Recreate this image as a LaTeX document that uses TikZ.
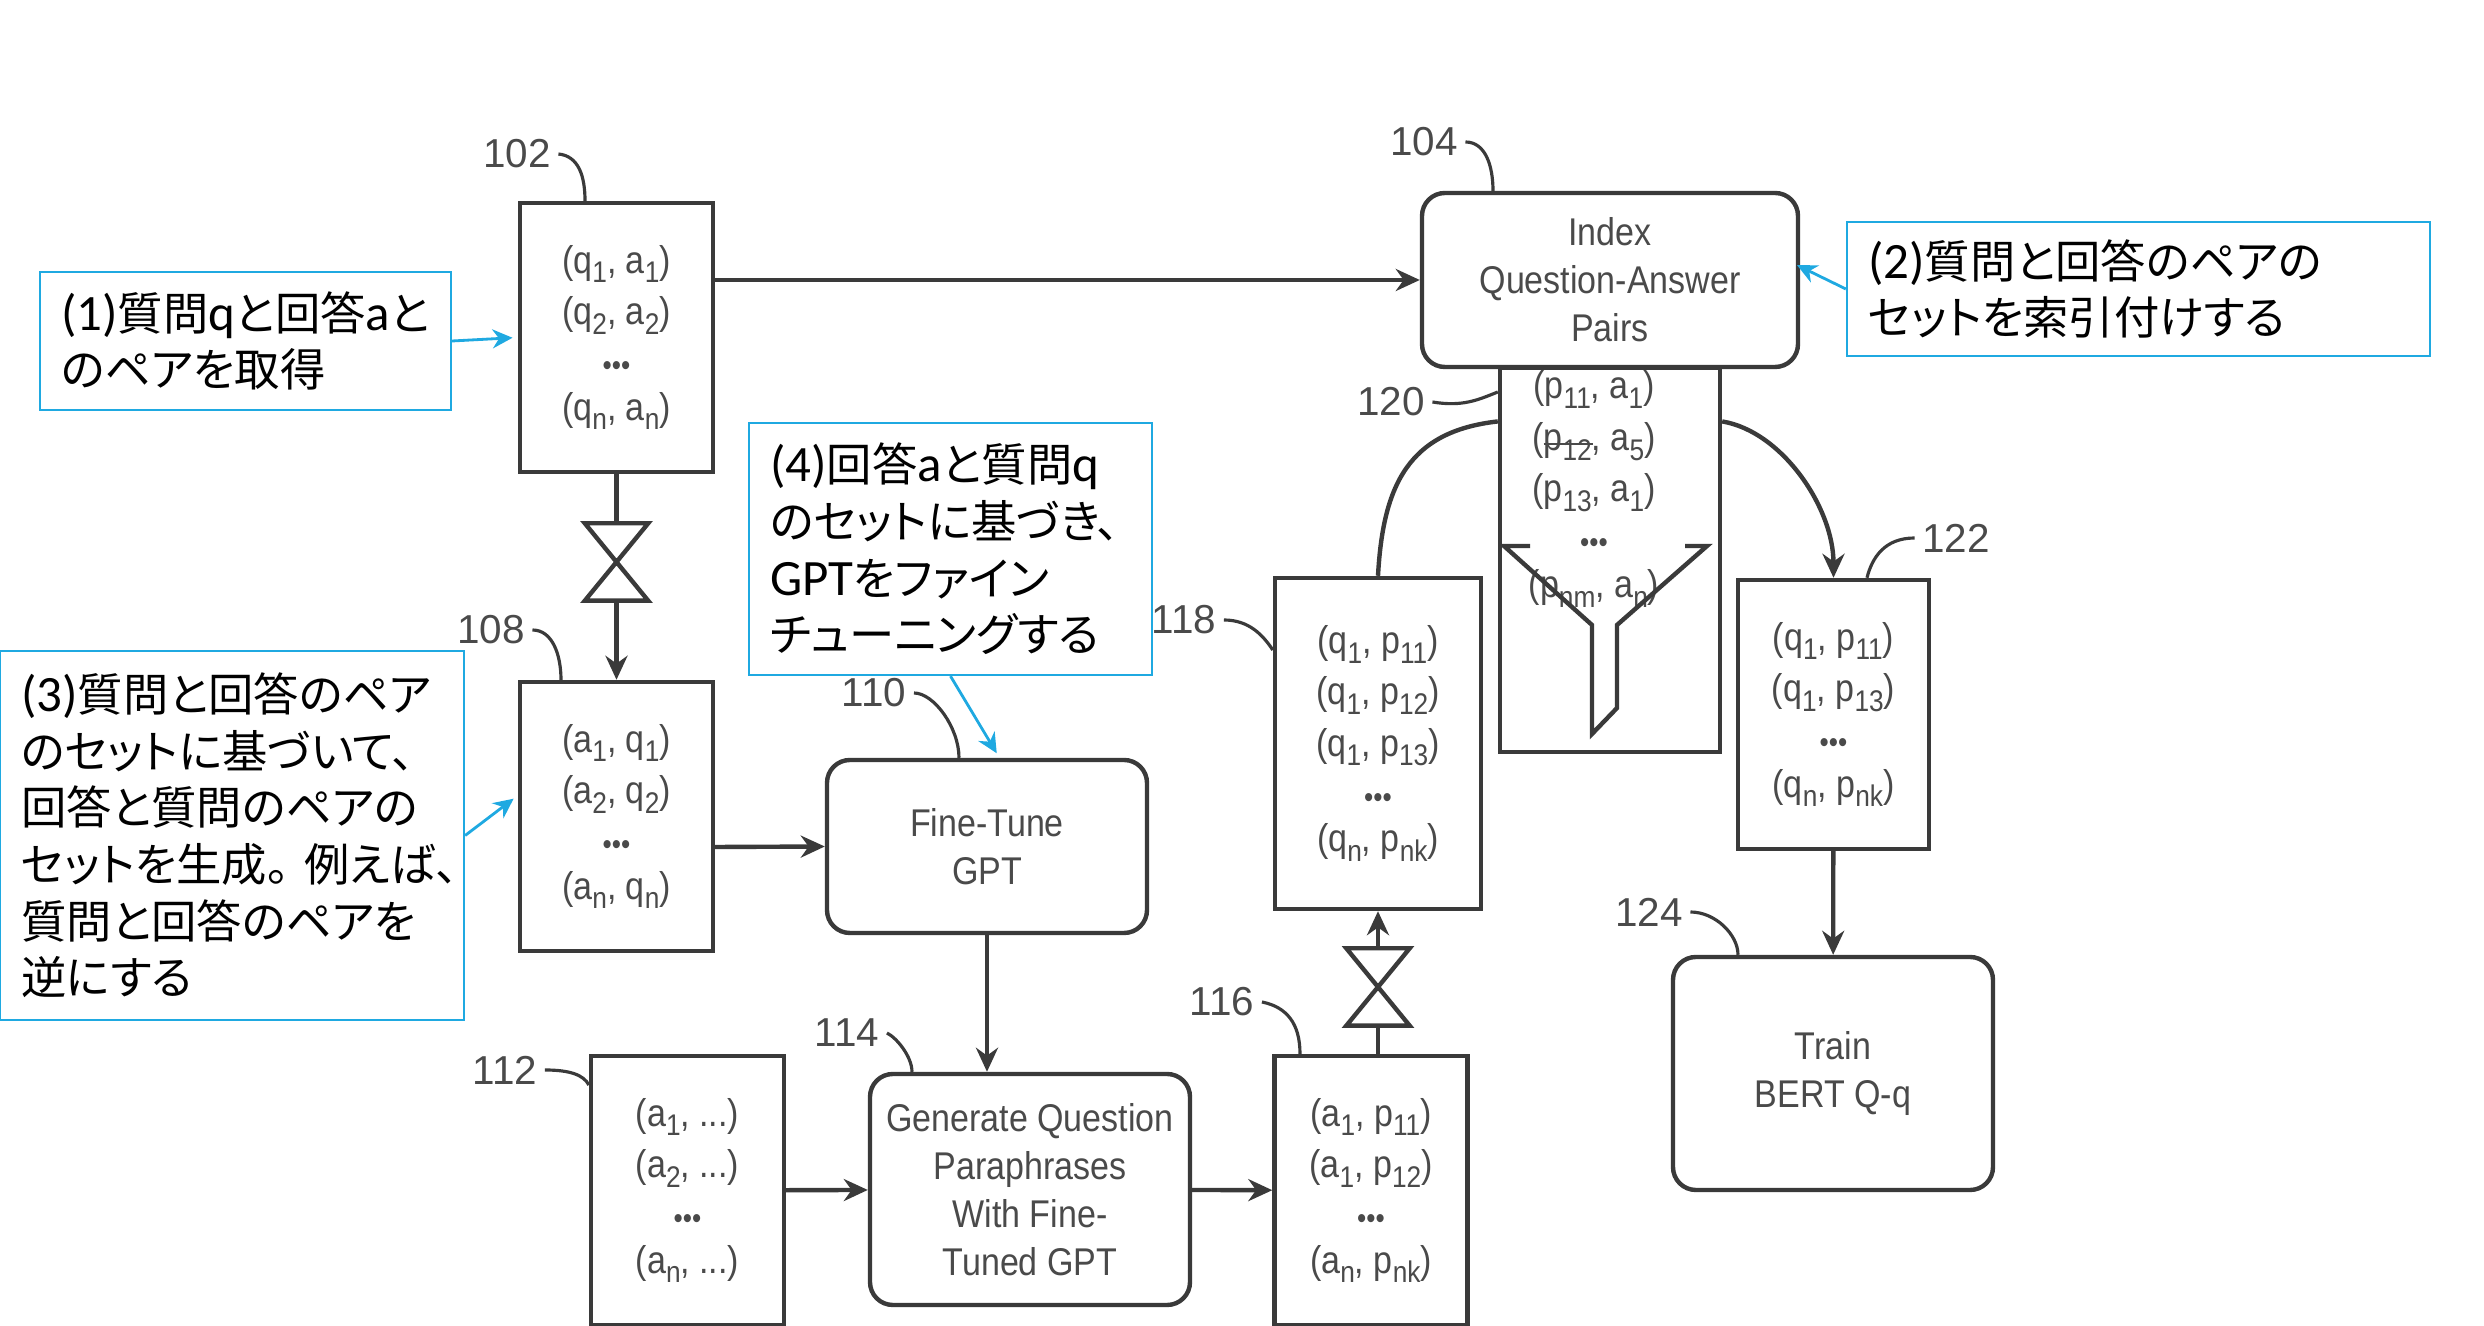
\documentclass[tikz,border=0pt]{standalone}
\usepackage{fontspec}
\setmainfont{Liberation Sans}[FakeStretch=0.88]
\newfontfamily\refFont{Liberation Sans}
\newfontfamily\jpFont[RawFeature=+palt]{Noto Sans CJK JP}
\newfontfamily\latFont{Carlito}
\usepackage{xcolor}
\definecolor{patInk}{HTML}{3A3A3A}
\definecolor{patText}{HTML}{4A4A4A}
\definecolor{noteBlue}{HTML}{1FA9E1}
\usetikzlibrary{arrows.meta, positioning}
\newcommand{\idx}[1]{\raisebox{-2.8pt}{\fontsize{8.5}{8.5}\selectfont #1}}
\newcommand{\pointsRow}{{\fontsize{8.5}{8.5}\selectfont •••}}
\newcommand{\barre}{\rlap{\rule[1.4pt]{14pt}{0.8pt}}}
\newcommand{\la}[1]{{\latFont\fontsize{14.5}{16}\selectfont #1}}
\tikzset{
  %% ── Boxes ──
  bloc/.style      = {draw=patInk, line width=1.25pt, fill=white, text=patText,
                      align=center, inner sep=0pt, font=\fontsize{11}{14.6}\selectfont},
  blocRond/.style  = {bloc, rounded corners=6.5pt, font=\fontsize{11}{13.7}\selectfont},
  blocPaire/.style = {bloc, minimum width=1.93cm, minimum height=2.69cm},
  vanne/.style     = {minimum width=0.62cm, minimum height=0.76cm, inner sep=0pt},
  blocBleu/.style 2 args = {draw=noteBlue, line width=0.65pt, fill=white, text=black,
                      align=left, inner xsep=0.21cm, inner ysep=0pt,
                      text width=#1cm-0.42cm, minimum height=#2cm,
                      font=\jpFont\fontsize{12.9}{16.1}\selectfont},
  %% ── Arrows ──
  trait/.style       = {draw=patInk, line width=1.25pt},
  fleche/.style      = {trait, -{Stealth[length=2.4mm, width=2.2mm]}},
  flecheBleue/.style = {draw=noteBlue, line width=0.8pt, shorten >=1.5pt,
                        -{Stealth[length=2mm, width=1.9mm]}},
  renvoi/.style      = {draw=patInk, line width=0.9pt},
  %% ── Text ──
  etiquette/.style = {font=\refFont\fontsize{11.5}{14}\selectfont, text=patText,
                      inner sep=2pt},
}
\begin{document}
\begin{tikzpicture}[x=1cm, y=-1cm]
\useasboundingbox (0,0) rectangle (24.84,13.26);

\node[blocPaire] (n102) at (6.165, 3.375)
     {(q\idx{1}, a\idx{1})\\(q\idx{2}, a\idx{2})\\\pointsRow\\[-2pt](q\idx{n}, a\idx{n})};
\node[blocPaire] (n108) at (6.165, 8.165)
     {(a\idx{1}, q\idx{1})\\(a\idx{2}, q\idx{2})\\\pointsRow\\[-2pt](a\idx{n}, q\idx{n})};
\node[blocRond, minimum width=3.20cm, minimum height=1.73cm] (n110) at (9.87, 8.465)
     {Fine-Tune\\GPT};
\node[blocPaire] (n112) at (6.875, 11.905)
     {(a\idx{1}, ...)\\(a\idx{2}, ...)\\\pointsRow\\[-2pt](a\idx{n}, ...)};
\node[blocRond, minimum width=3.20cm, minimum height=2.31cm] (n114) at (10.30, 11.895)
     {Generate Question\\Paraphrases\\With Fine-\\Tuned GPT};
\node[blocPaire] (n116) at (13.71, 11.905)
     {(a\idx{1}, p\idx{11})\\(a\idx{1}, p\idx{12})\\\pointsRow\\[-2pt](a\idx{n}, p\idx{nk})};
\node[bloc, minimum width=2.06cm, minimum height=3.31cm] (n118) at (13.78, 7.435)
     {(q\idx{1}, p\idx{11})\\(q\idx{1}, p\idx{12})\\(q\idx{1}, p\idx{13})\\\pointsRow\\[-2pt](q\idx{n}, p\idx{nk})};
\node[bloc, minimum width=2.20cm, minimum height=3.84cm] (n120) at (16.10, 5.60) {};
\node[font=\fontsize{11}{14.6}\selectfont, text=patText, align=center, inner sep=0pt] (t120) at (15.94, 4.89)
     {(p\idx{11}, a\idx{1})\\(\barre p\idx{12}, a\idx{5})\\(p\idx{13}, a\idx{1})\\\pointsRow\\[-2pt](p\idx{nm}, a\idx{n})};
\draw[trait] (15.30,5.46) -- (15.04,5.46) -- (15.92,6.25) -- (15.92,7.34) -- (16.17,7.08)
     -- (16.17,6.25) -- (17.07,5.46) -- (16.85,5.46);
\node[blocRond, minimum width=3.76cm, minimum height=1.74cm] (n104) at (16.10, 2.80)
     {Index\\Question-Answer\\Pairs};
\node[bloc, minimum width=1.91cm, minimum height=2.69cm] (n122) at (18.335, 7.145)
     {(q\idx{1}, p\idx{11})\\(q\idx{1}, p\idx{13})\\\pointsRow\\[-2pt](q\idx{n}, p\idx{nk})};
\node[blocRond, minimum width=3.20cm, minimum height=2.33cm] (n124) at (18.33, 10.735)
     {Train\\BERT Q-q};

\node[vanne] (v1) at (6.165, 5.62) {};
\node[vanne] (v2) at (13.78, 9.87) {};
\draw[trait] (v1.north west) -- (v1.south east) -- (v1.south west) -- (v1.north east) -- cycle;
\draw[trait] (v2.north west) -- (v2.south east) -- (v2.south west) -- (v2.north east) -- cycle;

\draw[fleche] (n102.east |- n104.west) -- (n104.west);
\draw[trait] (n102) -- (v1);
\draw[fleche] (v1) -- (n108);
\draw[fleche] (n108.east |- 0,8.47) -- (n110.west);
\draw[fleche] (n110) -- (n110 |- n114.north);
\draw[fleche] (n112) -- (n114);
\draw[fleche] (n114) -- (n116);
\draw[trait] (v2 |- n116.north) -- (v2);
\draw[fleche] (v2) -- (n118);
\draw[trait] (n120.129) .. controls +(-0.9,0.1) and +(0.05,-0.9) .. (n118.north);
\draw[fleche] (n120.51) .. controls +(0.6,0.1) and +(0,-0.7) .. (n122.north);
\draw[fleche] (n122) -- (n124);

\node[etiquette] (l102) at (5.17, 1.54) {102};
\node[etiquette] (l104) at (14.24, 1.42) {104};
\node[etiquette] (l108) at (4.91, 6.30) {108};
\node[etiquette] (l110) at (8.74, 6.93) {110};
\node[etiquette] (l112) at (5.05, 10.70) {112};
\node[etiquette] (l114) at (8.47, 10.33) {114};
\node[etiquette] (l116) at (12.22, 10.02) {116};
\node[etiquette] (l118) at (11.84, 6.20) {118};
\node[etiquette] (l120) at (13.91, 4.02) {120};
\node[etiquette] (l122) at (19.56, 5.38) {122};
\node[etiquette] (l124) at (16.49, 9.12) {124};

\draw[renvoi] (l102.east) .. controls +(0.2,0.02) and +(0,-0.25) .. (5.85,0 |- n102.north);
\draw[renvoi] (l104.east) .. controls +(0.2,0) and +(0,-0.25) .. (14.93,0 |- n104.north);
\draw[renvoi] (l108.east) .. controls +(0.2,0) and +(0,-0.25) .. (5.61,0 |- n108.north);
\draw[renvoi] (l110.east) .. controls +(0.2,0) and +(0,-0.3) .. (9.59,0 |- n110.north);
\draw[renvoi] (l112.east) .. controls +(0.25,0) and +(-0.05,-0.1) .. (n112.west |- 0,10.85);
\draw[renvoi] (l114.east) .. controls +(0.1,0.05) and +(0,-0.15) .. (9.12,0 |- n114.north);
\draw[renvoi] (l116.east) .. controls +(0.25,0.05) and +(0,-0.3) .. (13.00,0 |- n116.north);
\draw[renvoi] (l118.east) .. controls +(0.25,0) and +(-0.1,-0.15) .. (n118.west |- 0,6.50);
\draw[renvoi] (l120.east) .. controls +(0.3,0.05) and +(-0.2,0.08) .. (n120.west |- 0,3.92);
\draw[renvoi] (l122.west) .. controls +(-0.3,0) and +(0.05,-0.2) .. (18.67,0 |- n122.north);
\draw[renvoi] (l124.east) .. controls +(0.25,0) and +(0,-0.2) .. (17.38,0 |- n124.north);

\node[blocBleu={4.11}{1.38}] (b1) at (2.455, 3.41)
     {\la{(1)}質問\la{q}と回答\la{a}と\\のペアを取得};
\node[blocBleu={5.83}{1.34}] (b2) at (21.385, 2.89)
     {\la{(2)}質問と回答のペアの\\セットを索引付けする};
\node[blocBleu={4.64}{3.69}] (b3) at (2.32, 8.355)
     {\la{(3)}質問と回答のペア\\のセットに基づいて、\\回答と質問のペアの\\セットを生成。\kern4pt 例えば、\\質問と回答のペアを\\逆にする};
\node[blocBleu={4.03}{2.52}] (b4) at (9.505, 5.49)
     {\la{(4)}回答\la{a}と質問\la{q}\\のセットに基づき、\\\la{GPT}をファイン\\チューニングする};

\draw[flecheBleue] (b1.east) -- (n102.west);
\draw[flecheBleue, shorten >=-1pt] (b2.west) -- (n104.4);
\draw[flecheBleue] (b3.east) -- (n108.168);
\draw[flecheBleue] (b4.south) -- (n110.82);

\end{tikzpicture}
\end{document}
